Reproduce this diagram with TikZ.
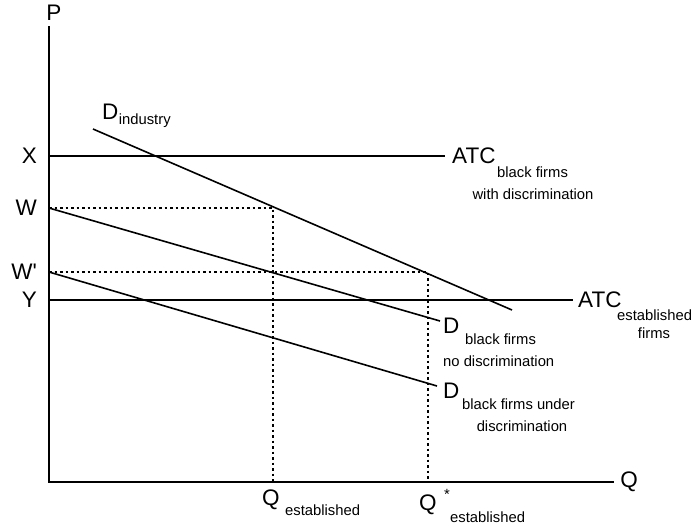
\documentclass[tikz,border=0pt]{standalone}
\usepackage{fontspec}
\setmainfont{Liberation Sans}[Ligatures=TeXOff]
\begin{document}
\begin{tikzpicture}[x=1pt,y=-1pt,
  curve/.style={line width=1.6pt,black},
  guide/.style={line width=1.4pt,dash pattern=on 2.5pt off 3pt},
  big/.style={font=\fontsize{22.5}{24}\selectfont,inner sep=0pt},
  small/.style={font=\fontsize{14.8}{16}\selectfont,inner sep=0pt}]
\useasboundingbox (0,0) rectangle (694,528);
% axes
\coordinate (O) at (49,482);
\coordinate (Ptop) at (49,26);
\coordinate (Qend) at (614,482);
\draw[curve] (Ptop) -- (O) -- (Qend);
\node[big] (P) at (54,13) {P};
\node[big] (Q) at (629,482) {Q};
% price levels
\coordinate (Xl) at (49,156); \coordinate (Xr) at (445,156);
\coordinate (Yl) at (49,300); \coordinate (Yr) at (573,300);
\coordinate (Wl) at (49,208); \coordinate (Wpl) at (49,272);
\coordinate (A) at (273,208); \coordinate (B) at (428,272);
\coordinate (Aq) at (273,482); \coordinate (Bq) at (428,482);
\node[big,anchor=east] (X) at (37,156) {X};
\node[big,anchor=east] (W) at (37,208) {W};
\node[big,anchor=east] (Wp) at (37,272) {W'};
\node[big,anchor=east] (Y) at (37,300) {Y};
\draw[curve] (Xl) -- (Xr);
\draw[curve] (Yl) -- (Yr);
% dotted guides
\draw[guide] (Wl) -- (A) -- (Aq);
\draw[guide] (Wpl) -- (B) -- (Bq);
% demand curves
\coordinate (Di1) at (93,129); \coordinate (Di2) at (512,310);
\coordinate (Dn2) at (440,321);
\coordinate (Du2) at (437,386);
\draw[curve] (Di1) -- (Di2);
\draw[curve] (Wl) -- (Dn2);
\draw[curve] (Wpl) -- (Du2);
% labels
\node[big,anchor=base west] (Dind) at (102,119) {D};
\node[small,anchor=base west] (Dindsub) at (Dind.base east) [yshift=-5pt] {industry};
\node[big,anchor=west] (ATC1) at (452,156) {ATC};
\node[small,anchor=base west] (ATC1a) at (497,177) {black firms};
\node[small,anchor=base] (ATC1b) at (533,199) {with discrimination};
\node[big,anchor=west] (ATC2) at (578,300) {ATC};
\node[small,anchor=base west] (ATC2a) at (617,320) {established};
\node[small,anchor=base] (ATC2b) at (654,338) {firms};
\node[big,anchor=west] (Dn) at (443,326) {D};
\node[small,anchor=base west] (Dna) at (465,344) {black firms};
\node[small,anchor=base west] (Dnb) at (443,366) {no discrimination};
\node[big,anchor=west] (Du) at (443,391) {D};
\node[small,anchor=base west] (Dua) at (462,409) {black firms under};
\node[small,anchor=base] (Dub) at (522,431) {discrimination};
\node[big,anchor=west] (Q1) at (262,500) {Q};
\node[small,anchor=base west] (Q1s) at (285,515) {established};
\node[big,anchor=west] (Q2) at (419,505) {Q};
\node[small] (star) at (447,494) {*};
\node[small,anchor=base west] (Q2s) at (450,522) {established};
\end{tikzpicture}
\end{document}
